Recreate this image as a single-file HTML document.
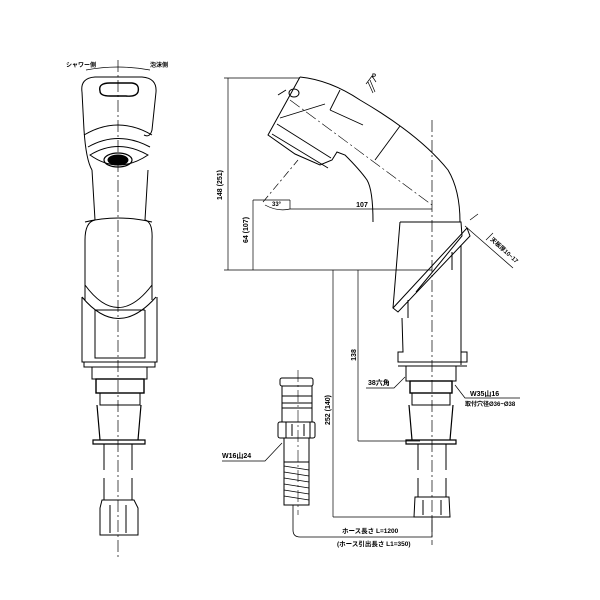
<!DOCTYPE html>
<html><head><meta charset="utf-8"><style>body{margin:0;background:#fff}svg{display:block}text{font-family:"Liberation Sans","Noto Sans CJK JP",sans-serif;fill:#000;font-weight:bold}</style></head><body>
<svg width="600" height="600" viewBox="0 0 600 600" fill="none" stroke="#000" stroke-width="1">
<!-- LEFT VIEW -->
<line x1="118" y1="60" x2="118" y2="560" stroke-dasharray="12,3,2,3" stroke-width="0.7"/>
<text x="66" y="67" font-size="6" stroke="none">シャワー側</text>
<text x="150" y="67" font-size="6" stroke="none">泡沫側</text>
<path d="M86 70 Q118 64 150 70" stroke-width="0.7"/>
<path d="M82 92 Q80 78 95 77 L142 77 Q157 78 156 92 L152 130 Q150 138 144 135"/>
<path d="M100 91 Q98 83 110 83 L132 83 Q140 84 138 92 Q136 97 126 96 L110 96 Q100 96 100 91 Z" stroke-width="1.4"/>
<path d="M82 92 L84 130 Q86 160 92 170"/>
<path d="M84 135 Q118 115 152 135"/>
<path d="M88 147 Q118 130 150 147"/>
<path d="M90 155 Q118 175 148 155 Q118 138 90 155Z"/>
<ellipse cx="118" cy="160" rx="14" ry="7" stroke-width="1.2"/>
<ellipse cx="118" cy="160" rx="10" ry="5" fill="#000"/>
<path d="M92 170 L95 220 M148 170 L145 220"/>
<path d="M95 220 Q85 222 85 240 L85 300 M145 220 Q153 222 152 240 L152 300"/>
<path d="M85 222 Q118 214 152 222"/>
<path d="M85 285 Q118 330 152 285"/>
<path d="M82 297 Q118 340 156 297"/>
<path d="M82 297 L82 362 L157 362 L157 297"/>
<path d="M95 310 L145 310 M95 310 L95 358 L145 358 L145 310"/>
<rect x="84" y="362" width="71" height="5"/>
<rect x="92" y="367" width="55" height="12"/>
<rect x="96" y="379" width="48" height="14" stroke-width="1.4"/>
<rect x="100" y="393" width="40" height="12"/>
<path d="M97 405 L100 440 L138 440 L141 405 M93 440 L145 440 L145 444 L93 444Z" stroke-width="1.2"/>
<path d="M104 444 L104 470 M132 444 L132 470 M104 478 L104 500 M132 500 L132 478"/>
<path d="M102 500 L134 500 L138 508 L138 535 L100 535 L100 508Z"/>
<path d="M110 505 L110 533 M126 505 L126 533"/>
<!-- RIGHT VIEW -->
<line x1="432" y1="120" x2="432" y2="545" stroke-dasharray="12,3,2,3" stroke-width="0.7"/>
<line x1="228" y1="78" x2="228" y2="270" stroke-width="0.7"/>
<line x1="224" y1="78" x2="300" y2="78" stroke-width="0.7"/>
<line x1="253" y1="200" x2="253" y2="270" stroke-width="0.7"/>
<line x1="224" y1="270" x2="432" y2="270" stroke-width="0.7"/>
<line x1="253" y1="200" x2="290" y2="200" stroke-width="0.7"/>
<line x1="290" y1="209" x2="432" y2="209" stroke-width="0.7"/>
<line x1="290" y1="200" x2="290" y2="209" stroke-width="0.7"/>
<text x="222" y="185" font-size="7" stroke="none" transform="rotate(-90 222 185)" text-anchor="middle">148 (251)</text>
<text x="248" y="230" font-size="7" stroke="none" transform="rotate(-90 248 230)" text-anchor="middle">64 (107)</text>
<text x="362" y="207" font-size="7" stroke="none" text-anchor="middle">107</text>
<text x="272" y="206" font-size="6" stroke="none">33°</text>
<path d="M263 202 L298 160" stroke-dasharray="8,3,2,3" stroke-width="0.7"/>
<path d="M265 205 Q278 212 290 209" stroke-width="0.7"/>
<!-- head -->
<path d="M300 77 Q330 80 360 100 Q420 135 448 170 Q460 190 460 222"/>
<path d="M300 77 L268 135 L295 154 L320 165 L332 160 L337 152 L345 155 Q360 170 367 180 Q373 190 373 222"/>
<path d="M278 95 L286 90" />
<ellipse cx="294" cy="93" rx="5" ry="4"/>
<path d="M277 124 L331 158 M272 134 L328 168 M280 118 L325 104" stroke-width="0.9"/>
<path d="M340 90 L330 110 M400 126 L375 160 M330 110 L363 125" stroke-width="0.9"/>
<path d="M290 100 L432 205" stroke-dasharray="12,3,2,3" stroke-width="0.6"/>
<path d="M375 92 L370 80 M373 93 L368 82 M366 84 L372 76 L376 82" stroke-width="0.7"/>
<text x="372" y="78" font-size="6" stroke="none">P</text>
<!-- body -->
<path d="M400 222 L461 222 L462 236 L416 292 M400 222 L393 308 M461 245 L461 365 M402 318 L403 352 L398 352 L398 362 L467 362 L467 352 L461 352"/>
<path d="M393 308 L467 228 L470 236 L398 312 Z"/>
<path d="M408 300 L408 318 M452 252 L452 270"/>
<line x1="398" y1="366" x2="467" y2="366"/>
<rect x="406" y="366" width="50" height="15"/>
<rect x="410" y="381" width="42" height="12" stroke-width="1.4"/>
<rect x="412" y="393" width="38" height="12"/>
<path d="M409 405 L412 440 L450 440 L453 405 M406 440 L456 440 L456 444 L406 444Z" stroke-width="1.2"/>
<path d="M418 444 L418 470 M446 444 L446 470 M418 478 L418 497 M446 497 L446 478"/>
<path d="M415 497 L449 497 L450 517 L414 517Z"/>
<path d="M423 500 L423 515 M441 500 L441 515"/>
<!-- right dims -->
<path d="M465 226 L513 268 M470 220 L478 214 M486 240 L493 233" stroke-width="0.7"/>
<text x="490" y="240" font-size="6" stroke="none" transform="rotate(42 490 240)">天板厚10~17</text>
<line x1="358" y1="270" x2="358" y2="441" stroke-width="0.7"/>
<line x1="358" y1="441" x2="420" y2="441" stroke-width="0.7"/>
<text x="356" y="355" font-size="7" stroke="none" transform="rotate(-90 356 355)" text-anchor="middle">138</text>
<line x1="333" y1="270" x2="333" y2="517" stroke-width="0.7"/>
<line x1="333" y1="517" x2="415" y2="517" stroke-width="0.7"/>
<text x="330" y="410" font-size="7" stroke="none" transform="rotate(-90 330 410)" text-anchor="middle">252 (140)</text>
<text x="368" y="385" font-size="7" stroke="none">38六角</text>
<path d="M366 388 L394 388 L405 377" stroke-width="0.7"/>
<text x="470" y="396" font-size="7" stroke="none">W35山16</text>
<text x="465" y="406" font-size="6" stroke="none">取付穴径Ø36~Ø38</text>
<path d="M455 385 L465 398 L520 398" stroke-width="0.7"/>
<!-- hose -->
<line x1="298" y1="370" x2="298" y2="515" stroke-dasharray="12,3,2,3" stroke-width="0.6"/>
<rect x="280" y="378" width="33" height="8" rx="2"/>
<path d="M282 386 L282 422 M312 386 L312 422 M282 396 L312 396 M282 403 L312 403 M282 408 L312 408"/>
<rect x="278" y="422" width="37" height="16" rx="2"/>
<path d="M286 422 L286 438 M292 424 L292 436 M304 424 L304 436 M310 422 L310 438"/>
<path d="M284 438 L284 462 L309 462 L309 438"/>
<path d="M284 462 L284 505 L309 505 L309 462" />
<path d="M284 466 L309 470 M284 472 L309 476 M284 478 L309 482 M284 484 L309 488 M284 490 L309 494 M284 496 L309 500" stroke-width="0.8"/>
<text x="222" y="458" font-size="7" stroke="none">W16山24</text>
<path d="M222 461 L265 461 L282 443" stroke-width="0.7"/>
<path d="M293 505 L293 530 Q293 537 300 537 L432 537 L432 517" stroke-width="0.8"/>
<text x="342" y="533" font-size="6.5" stroke="none">ホース長さ L=1200</text>
<text x="337" y="546" font-size="6.5" stroke="none">(ホース引出長さ L1=350)</text>
</svg>
</body></html>
